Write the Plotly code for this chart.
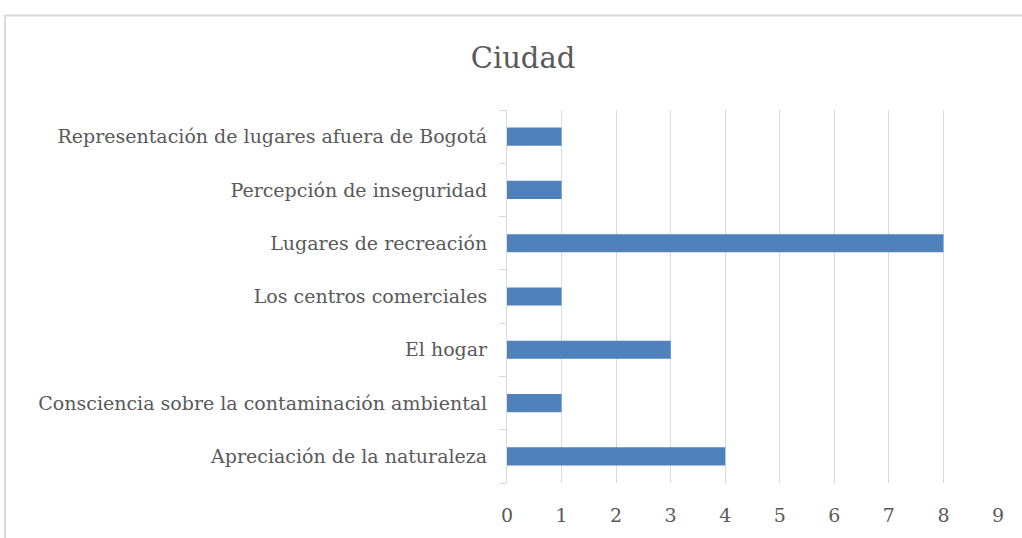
import plotly.graph_objects as go

# categories listed bottom to top (plotly draws the first category at the bottom)
categorias = [
    "Apreciación de la naturaleza",
    "Consciencia sobre la contaminación ambiental",
    "El hogar",
    "Los centros comerciales",
    "Lugares de recreación",
    "Percepción de inseguridad",
    "Representación de lugares afuera de Bogotá",
]
valores = [4, 1, 3, 1, 8, 1, 1]
ticks_x = [0, 1, 2, 3, 4, 5, 6, 7, 8, 9]

W, H = 1022, 538
ml, mr, mt, mb = 507, 24, 110, 53
pw, ph = W - ml - mr, H - mt - mb

fig = go.Figure(go.Bar(
    x=valores, y=categorias, orientation="h",
    marker=dict(color="#4F81BD", line=dict(width=0)),
    width=0.34,
))

fig.update_layout(
    width=W, height=H,
    margin=dict(l=ml, r=mr, t=mt, b=mb),
    paper_bgcolor="white", plot_bgcolor="white",
    font=dict(family="DejaVu Serif", color="#595959", size=19),
    title=dict(text="Ciudad", x=523 / W, xref="container", xanchor="center",
               y=1 - 58 / H, yref="container", yanchor="middle",
               font=dict(size=29, color="#595959")),
    showlegend=False,
)

fig.update_xaxes(range=[0, 9], tickvals=ticks_x, showgrid=True, gridcolor="#d9d9d9",
                 gridwidth=1, zeroline=False, showline=False, ticks="",
                 ticklabelstandoff=19, tickfont=dict(size=19))
fig.update_yaxes(showline=True, linecolor="#d9d9d9", linewidth=1, ticks="outside",
                 tickson="boundaries", ticklen=7, tickcolor="#d9d9d9",
                 ticklabelstandoff=15, showgrid=False)

# outer chart frame, partly cut by the picture edges
fig.add_shape(type="rect", xref="paper", yref="paper",
              x0=(5 - ml) / pw, x1=(W + 5 - ml) / pw,
              y0=-(mb + 10) / ph, y1=(H - mb - 15) / ph,
              line=dict(color="#d9d9d9", width=2), layer="below")

fig.write_html("out.html", config={"displayModeBar": False},
               post_script="document.body.style.margin='0';")
